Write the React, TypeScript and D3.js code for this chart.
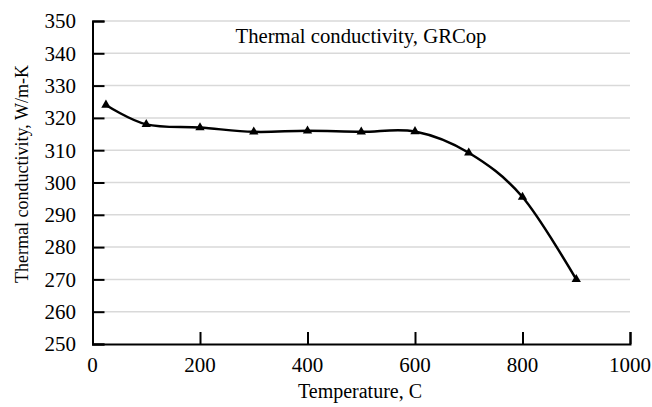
import React, { useEffect, useRef } from 'react'
import * as d3 from 'd3'

// temperature (C) and thermal conductivity (W/m-K)
const temps = [25, 100, 200, 300, 400, 500, 600, 700, 800, 900]
const conductivity = [324, 318, 317, 315.7, 316, 315.7, 315.8, 309.2, 295.5, 270]
const xTicks = [0, 200, 400, 600, 800, 1000]
const yTicks = [250, 260, 270, 280, 290, 300, 310, 320, 330, 340, 350]

const W = 652, H = 407
const margin = { top: 21, right: 22, bottom: 63, left: 92.5 }
const FONT = '"Liberation Serif", "Times New Roman", serif'

export default function App() {
    const ref = useRef<SVGSVGElement>(null)

    useEffect(() => {
        const svg = d3.select(ref.current)
        svg.selectAll('*').remove()

        const x = d3.scaleLinear().domain([0, 1000]).range([margin.left, W - margin.right])
        const y = d3.scaleLinear().domain([250, 350]).range([H - margin.bottom, margin.top])

        svg.append('rect').attr('width', W).attr('height', H).attr('fill', '#fff')

        // horizontal grid
        svg.append('g')
            .selectAll('line')
            .data(yTicks.slice(1))
            .enter()
            .append('line')
            .attr('x1', x(0)).attr('x2', x(1000))
            .attr('y1', d => y(d)).attr('y2', d => y(d))
            .attr('stroke', '#d9d9d9')
            .attr('stroke-width', 1.5)

        // left axis, ticks pointing into the plot
        const yAxis = svg.append('g')
            .attr('transform', `translate(${x(0)},0)`)
            .call(d3.axisRight(y).tickValues(yTicks).tickSize(12).tickFormat(() => ''))
        yAxis.select('.domain').attr('stroke', '#000').attr('stroke-width', 2)
        yAxis.selectAll('.tick line').attr('stroke', '#000').attr('stroke-width', 2)

        svg.append('g')
            .selectAll('text')
            .data(yTicks)
            .enter()
            .append('text')
            .attr('x', 76)
            .attr('y', d => y(d))
            .attr('dy', '0.35em')
            .attr('text-anchor', 'end')
            .attr('font-family', FONT)
            .attr('font-size', 21)
            .text(d => d)

        // bottom axis, ticks pointing up
        const xAxis = svg.append('g')
            .attr('transform', `translate(0,${y(250)})`)
            .call(d3.axisTop(x).tickValues(xTicks).tickSize(12).tickFormat(() => ''))
        xAxis.select('.domain').attr('stroke', '#000').attr('stroke-width', 2)
        xAxis.selectAll('.tick line').attr('stroke', '#000').attr('stroke-width', 2)

        svg.append('g')
            .selectAll('text')
            .data(xTicks)
            .enter()
            .append('text')
            .attr('x', d => x(d))
            .attr('y', 372)
            .attr('text-anchor', 'middle')
            .attr('font-family', FONT)
            .attr('font-size', 21)
            .text(d => d)

        const data = temps.map((t, i) => ({ x: t, y: conductivity[i] }))

        const line = d3.line<{ x: number, y: number }>()
            .x(d => x(d.x))
            .y(d => y(d.y))
            .curve(d3.curveCardinal)

        svg.append('path')
            .datum(data)
            .attr('d', line)
            .attr('fill', 'none')
            .attr('stroke', '#000')
            .attr('stroke-width', 2.5)

        const tri = d3.symbol().type(d3.symbolTriangle).size(38)
        svg.append('g')
            .selectAll('path')
            .data(data)
            .enter()
            .append('path')
            .attr('d', tri)
            .attr('transform', d => `translate(${x(d.x)},${y(d.y)})`)
            .attr('fill', '#000')

        svg.append('text')
            .attr('x', 361)
            .attr('y', 43)
            .attr('text-anchor', 'middle')
            .attr('font-family', FONT)
            .attr('font-size', 20.7)
            .text('Thermal conductivity, GRCop')

        svg.append('text')
            .attr('x', 360)
            .attr('y', 398)
            .attr('text-anchor', 'middle')
            .attr('font-family', FONT)
            .attr('font-size', 20)
            .text('Temperature, C')

        svg.append('text')
            .attr('transform', `translate(28,${174}) rotate(-90)`)
            .attr('text-anchor', 'middle')
            .attr('font-family', FONT)
            .attr('font-size', 18)
            .text('Thermal conductivity, W/m-K')
    }, [])

    return (
        <svg ref={ref} width={W} height={H} style={{ position: 'absolute', left: 0, top: 0 }} />
    )
}
